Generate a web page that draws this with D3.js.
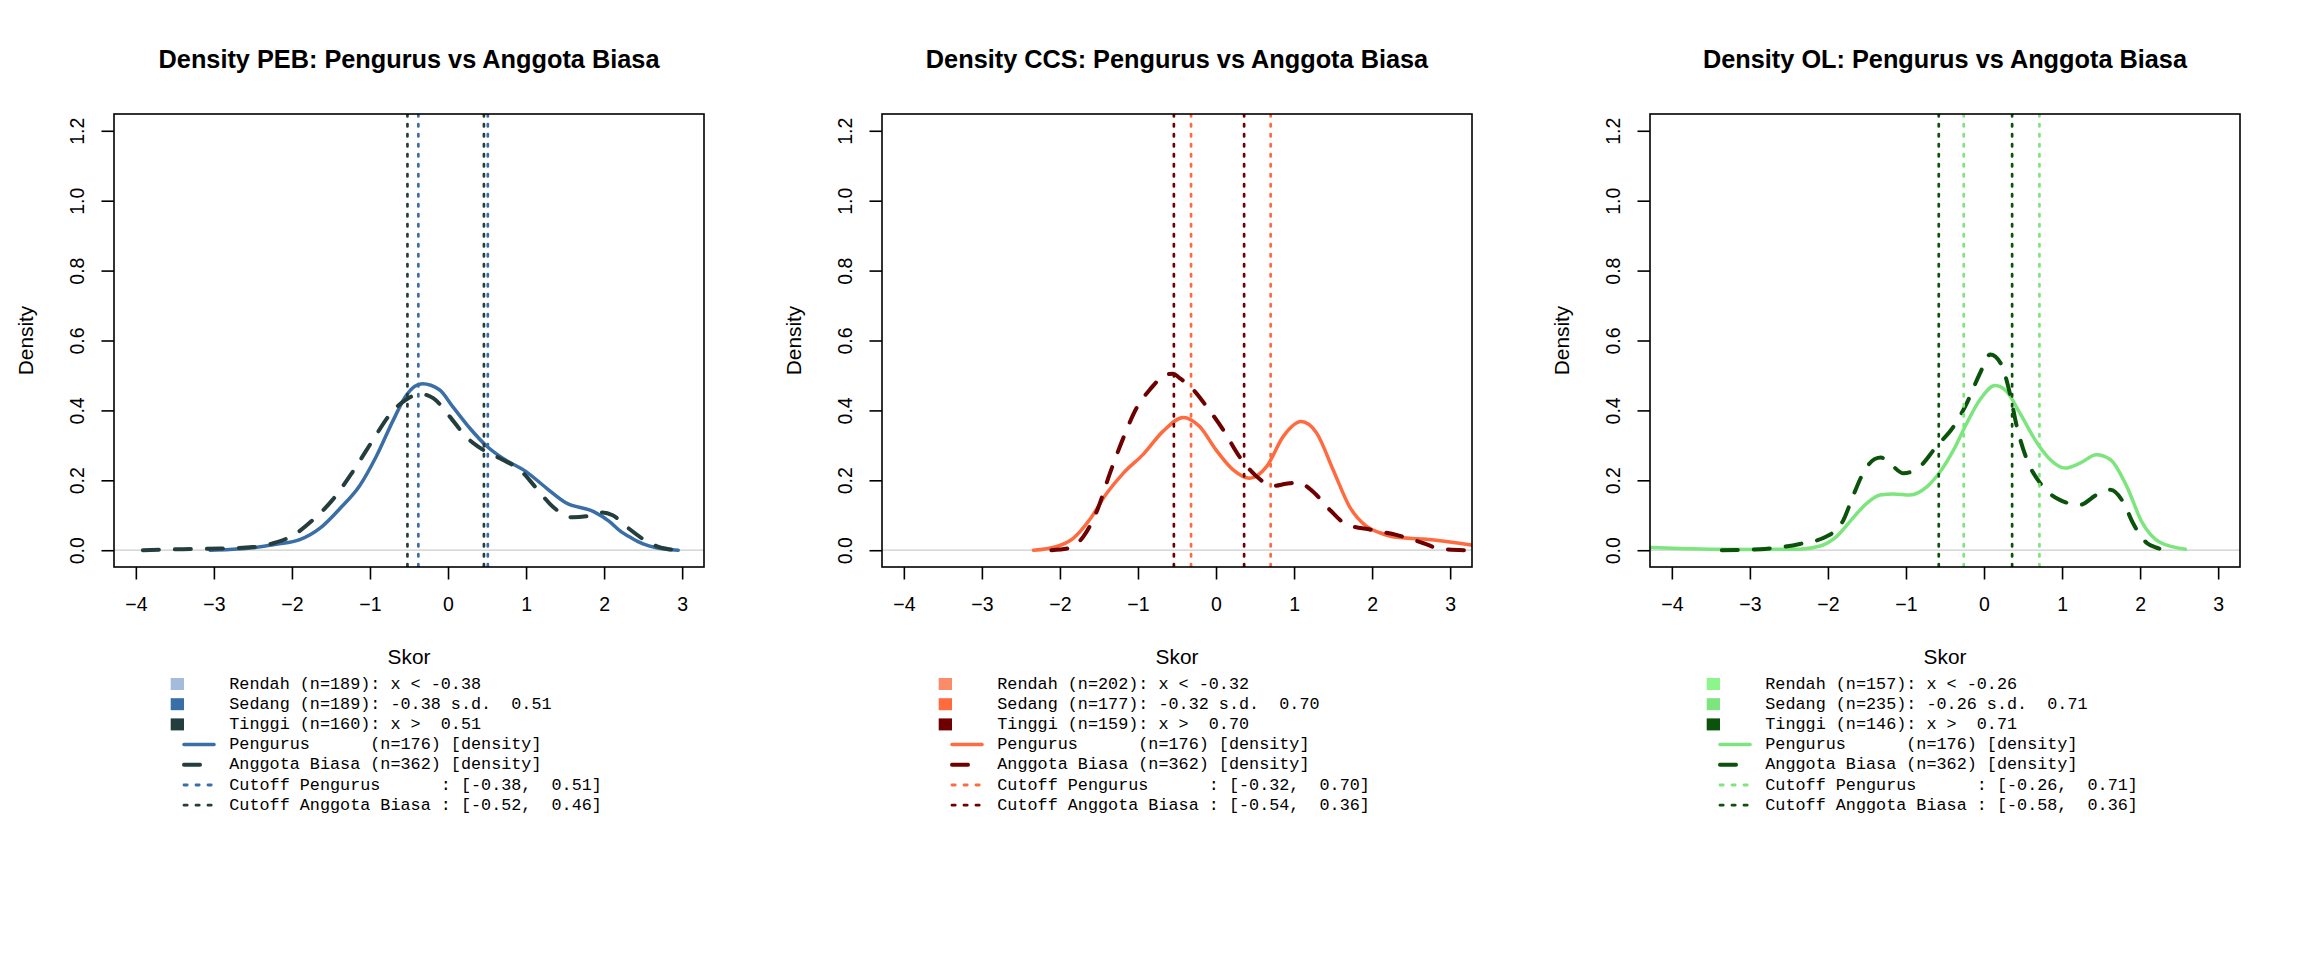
<!DOCTYPE html>
<html>
<head>
<meta charset="utf-8">
<script src="https://cdn.jsdelivr.net/npm/d3@7"></script>
<style>
  body { margin: 0; background: #fff; }
  svg text { font-family: "Liberation Sans", Arial, Helvetica, sans-serif; fill: #000; }
  .legend-text { font-family: "Courier New", "Liberation Mono", monospace; font-size: 16.8px; white-space: pre; }
</style>
</head>
<body>
<svg id="chart" width="2304" height="960"></svg>
<script>
// density curves: [skor, density]
const pebPengurus = [[-3.05, 0], [-2.8, 0.002], [-2.5, 0.007], [-2.2, 0.017], [-1.9, 0.03], [-1.64, 0.063], [-1.39, 0.118], [-1.13, 0.185], [-0.92, 0.268], [-0.7, 0.373], [-0.53, 0.445], [-0.33, 0.476], [-0.11, 0.459], [0.06, 0.411], [0.28, 0.349], [0.49, 0.299], [0.7, 0.263], [1.0, 0.225], [1.26, 0.178], [1.51, 0.136], [1.86, 0.111], [2.07, 0.082], [2.2, 0.056], [2.35, 0.035], [2.5, 0.018], [2.67, 0.007], [2.95, 0]];
const pebAnggota = [[-3.91, 0], [-3.4, 0.003], [-2.92, 0.005], [-2.5, 0.009], [-2.24, 0.02], [-1.99, 0.042], [-1.73, 0.087], [-1.48, 0.144], [-1.22, 0.225], [-0.96, 0.316], [-0.75, 0.387], [-0.53, 0.432], [-0.36, 0.447], [-0.19, 0.435], [0.02, 0.383], [0.23, 0.325], [0.45, 0.287], [0.7, 0.259], [0.92, 0.23], [1.13, 0.178], [1.34, 0.125], [1.6, 0.094], [1.77, 0.097], [1.98, 0.108], [2.11, 0.1], [2.3, 0.065], [2.5, 0.032], [2.67, 0.012], [2.8, 0.004], [2.95, 0]];

const ccsPengurus = [[-2.34, 0], [-2.05, 0.01], [-1.83, 0.034], [-1.62, 0.087], [-1.41, 0.16], [-1.19, 0.22], [-0.93, 0.275], [-0.68, 0.34], [-0.42, 0.38], [-0.21, 0.354], [0.0, 0.287], [0.22, 0.23], [0.43, 0.206], [0.65, 0.24], [0.86, 0.325], [1.09, 0.368], [1.29, 0.335], [1.5, 0.23], [1.71, 0.125], [1.93, 0.068], [2.1, 0.05], [2.31, 0.037], [2.66, 0.032], [2.95, 0.025], [3.27, 0.015], [3.5, 0.006], [3.7, 0]];
const ccsAnggota = [[-2.11, 0], [-1.88, 0.006], [-1.7, 0.039], [-1.53, 0.11], [-1.36, 0.22], [-1.19, 0.32], [-1.02, 0.406], [-0.85, 0.459], [-0.64, 0.502], [-0.55, 0.505], [-0.47, 0.493], [-0.29, 0.459], [-0.12, 0.411], [0.09, 0.345], [0.3, 0.268], [0.52, 0.211], [0.73, 0.184], [0.9, 0.19], [1.05, 0.194], [1.24, 0.168], [1.46, 0.115], [1.67, 0.074], [2.0, 0.058], [2.31, 0.044], [2.66, 0.02], [2.87, 0.004], [3.21, 0]];

const olPengurus = [[-4.4, 0.009], [-4.15, 0.007], [-3.51, 0.003], [-2.87, 0.002], [-2.36, 0.003], [-2.1, 0.012], [-1.89, 0.039], [-1.68, 0.092], [-1.5, 0.135], [-1.33, 0.158], [-1.16, 0.161], [-0.95, 0.158], [-0.73, 0.182], [-0.56, 0.225], [-0.39, 0.287], [-0.22, 0.364], [-0.05, 0.431], [0.14, 0.471], [0.29, 0.454], [0.46, 0.392], [0.68, 0.307], [0.85, 0.259], [1.04, 0.235], [1.23, 0.249], [1.44, 0.273], [1.62, 0.259], [1.83, 0.182], [2.02, 0.082], [2.26, 0.022], [2.58, 0.003]];
const olAnggota = [[-3.36, 0], [-2.87, 0.003], [-2.36, 0.018], [-2.02, 0.039], [-1.8, 0.087], [-1.68, 0.154], [-1.55, 0.22], [-1.4, 0.261], [-1.32, 0.265], [-1.21, 0.249], [-1.03, 0.22], [-0.82, 0.24], [-0.61, 0.297], [-0.39, 0.354], [-0.22, 0.421], [-0.05, 0.507], [0.08, 0.56], [0.21, 0.536], [0.33, 0.45], [0.42, 0.354], [0.55, 0.259], [0.72, 0.192], [0.97, 0.144], [1.23, 0.13], [1.44, 0.158], [1.62, 0.173], [1.79, 0.135], [1.91, 0.077], [2.09, 0.02], [2.2, 0.008], [2.32, 0]];

// cutoffs [low, high]
const pebCutPengurus = [-0.38, 0.51];
const pebCutAnggota = [-0.52, 0.46];
const ccsCutPengurus = [-0.32, 0.70];
const ccsCutAnggota = [-0.54, 0.36];
const olCutPengurus = [-0.26, 0.71];
const olCutAnggota = [-0.58, 0.36];

// n for Rendah, Sedang, Tinggi
const pebCounts = [189, 189, 160];
const ccsCounts = [202, 177, 159];
const olCounts = [157, 235, 146];
const nPengurus = 176;
const nAnggota = 362;

const titles = ['Density PEB: Pengurus vs Anggota Biasa', 'Density CCS: Pengurus vs Anggota Biasa', 'Density OL: Pengurus vs Anggota Biasa'];
const xTicks = [-4, -3, -2, -1, 0, 1, 2, 3];
const yTicks = [0, 0.2, 0.4, 0.6, 0.8, 1.0, 1.2];
const xLim = [-4, 3];
const yLim = [0, 1.2];

const palettes = [
  { rendah: '#a4bbdb', sedang: '#3a6ea6', tinggi: '#243d3d' },
  { rendah: '#fb8c69', sedang: '#ff6a3f', tinggi: '#6e0000' },
  { rendah: '#8cf58c', sedang: '#7de57d', tinggi: '#0b520b' },
];

const panels = [
  { title: titles[0], pengurus: pebPengurus, anggota: pebAnggota, cutP: pebCutPengurus, cutA: pebCutAnggota, counts: pebCounts, col: palettes[0] },
  { title: titles[1], pengurus: ccsPengurus, anggota: ccsAnggota, cutP: ccsCutPengurus, cutA: ccsCutAnggota, counts: ccsCounts, col: palettes[1] },
  { title: titles[2], pengurus: olPengurus, anggota: olAnggota, cutP: olCutPengurus, cutA: olCutAnggota, counts: olCounts, col: palettes[2] },
];

const panelWidth = 768;
const box = { left: 114, right: 704, top: 114, bottom: 567 };

// R style 4% padding around the limits
const xPad = (xLim[1] - xLim[0]) * 0.04;
const yPad = (yLim[1] - yLim[0]) * 0.04;
const x = d3.scaleLinear().domain([xLim[0] - xPad, xLim[1] + xPad]).range([box.left, box.right]);
const y = d3.scaleLinear().domain([yLim[0] - yPad, yLim[1] + yPad]).range([box.bottom, box.top]);

const line = d3.line().x(d => x(d[0])).y(d => y(d[1])).curve(d3.curveMonotoneX);
const fmt = v => (v < 0 ? '' : ' ') + v.toFixed(2);

const svg = d3.select('#chart');

panels.forEach((p, i) => {
  const g = svg.append('g').attr('transform', `translate(${i * panelWidth},0)`);
  const clipId = `clip-${i}`;

  g.append('clipPath').attr('id', clipId)
    .append('rect')
    .attr('x', box.left).attr('y', box.top)
    .attr('width', box.right - box.left).attr('height', box.bottom - box.top);

  g.append('text')
    .attr('x', (box.left + box.right) / 2)
    .attr('y', 59)
    .attr('text-anchor', 'middle')
    .attr('dominant-baseline', 'central')
    .style('font-size', '25.3px')
    .style('font-weight', 'bold')
    .text(p.title);

  const plot = g.append('g').attr('clip-path', `url(#${clipId})`);

  plot.append('line')
    .attr('x1', box.left).attr('x2', box.right)
    .attr('y1', y(0)).attr('y2', y(0))
    .attr('stroke', '#cccccc').attr('stroke-width', 1.3);

  plot.append('path')
    .datum(p.pengurus)
    .attr('d', line)
    .attr('fill', 'none')
    .attr('stroke', p.col.sedang)
    .attr('stroke-width', 3.5)
    .attr('stroke-linejoin', 'round')
    .attr('stroke-linecap', 'round');

  plot.append('path')
    .datum(p.anggota)
    .attr('d', line)
    .attr('fill', 'none')
    .attr('stroke', p.col.tinggi)
    .attr('stroke-width', 4)
    .attr('stroke-dasharray', '16 16')
    .attr('stroke-linejoin', 'round')
    .attr('stroke-linecap', 'round');

  const cuts = [
    ...p.cutA.map(v => ({ v, color: p.col.tinggi })),
    ...p.cutP.map(v => ({ v, color: p.col.sedang })),
  ];
  plot.selectAll('.cutoff')
    .data(cuts)
    .join('line')
    .attr('class', 'cutoff')
    .attr('x1', d => x(d.v)).attr('x2', d => x(d.v))
    .attr('y1', box.top).attr('y2', box.bottom)
    .attr('stroke', d => d.color)
    .attr('stroke-width', 2.7)
    .attr('stroke-dasharray', '2.5 7.5')
    .attr('stroke-linecap', 'round');

  g.append('rect')
    .attr('x', box.left).attr('y', box.top)
    .attr('width', box.right - box.left).attr('height', box.bottom - box.top)
    .attr('fill', 'none').attr('stroke', '#000').attr('stroke-width', 1.6);

  const xAxis = d3.axisBottom(x).tickValues(xTicks).tickSize(12.5).tickFormat(d3.format('d'));
  g.append('g')
    .attr('transform', `translate(0,${box.bottom})`)
    .call(xAxis)
    .call(a => a.select('.domain').remove())
    .call(a => a.selectAll('line').attr('stroke', '#000').attr('stroke-width', 1.6))
    .call(a => a.selectAll('text')
      .attr('y', 37).attr('dy', null)
      .attr('dominant-baseline', 'central')
      .attr('fill', '#000')
      .style('font-size', '19.5px')
      .style('font-family', '"Liberation Sans", Arial, sans-serif'));

  const yAxis = d3.axisLeft(y).tickValues(yTicks).tickSize(12.5).tickFormat(d3.format('.1f'));
  g.append('g')
    .attr('transform', `translate(${box.left},0)`)
    .call(yAxis)
    .call(a => a.select('.domain').remove())
    .call(a => a.selectAll('line').attr('stroke', '#000').attr('stroke-width', 1.6))
    .call(a => a.selectAll('text')
      .attr('x', 0).attr('dy', null)
      .attr('transform', 'translate(-37,0) rotate(-90)')
      .attr('text-anchor', 'middle')
      .attr('dominant-baseline', 'central')
      .attr('fill', '#000')
      .style('font-size', '19.5px')
      .style('font-family', '"Liberation Sans", Arial, sans-serif'));

  g.append('text')
    .attr('transform', `translate(25.5,${(box.top + box.bottom) / 2}) rotate(-90)`)
    .attr('text-anchor', 'middle')
    .attr('dominant-baseline', 'central')
    .style('font-size', '20.8px')
    .text('Density');

  g.append('text')
    .attr('x', (box.left + box.right) / 2)
    .attr('y', 656.7)
    .attr('text-anchor', 'middle')
    .attr('dominant-baseline', 'central')
    .style('font-size', '20.8px')
    .text('Skor');

  // legend under the plot
  const rows = [
    { fill: p.col.rendah, label: `Rendah (n=${p.counts[0]}): x < ${fmt(p.cutP[0])}` },
    { fill: p.col.sedang, label: `Sedang (n=${p.counts[1]}): ${fmt(p.cutP[0])} s.d. ${fmt(p.cutP[1])}` },
    { fill: p.col.tinggi, label: `Tinggi (n=${p.counts[2]}): x > ${fmt(p.cutP[1])}` },
    { stroke: p.col.sedang, width: 3.5, dash: null, label: `Pengurus      (n=${nPengurus}) [density]` },
    { stroke: p.col.tinggi, width: 4, dash: '16 16', label: `Anggota Biasa (n=${nAnggota}) [density]` },
    { stroke: p.col.sedang, width: 2.8, dash: '3.2 8.8', label: `Cutoff Pengurus      : [${fmt(p.cutP[0])}, ${fmt(p.cutP[1])}]` },
    { stroke: p.col.tinggi, width: 2.8, dash: '3.2 8.8', label: `Cutoff Anggota Biasa : [${fmt(p.cutA[0])}, ${fmt(p.cutA[1])}]` },
  ];

  const legend = g.append('g').attr('class', 'legend');
  const item = legend.selectAll('g')
    .data(rows)
    .join('g')
    .attr('transform', (d, k) => `translate(0,${684 + k * 20.2})`);

  item.filter(d => d.fill)
    .append('rect')
    .attr('x', 170.7).attr('y', -6)
    .attr('width', 13.3).attr('height', 12)
    .attr('fill', d => d.fill);

  item.filter(d => d.stroke)
    .append('line')
    .attr('x1', 184).attr('x2', 214)
    .attr('stroke', d => d.stroke)
    .attr('stroke-width', d => d.width)
    .attr('stroke-dasharray', d => d.dash)
    .attr('stroke-linecap', 'round');

  item.append('text')
    .attr('class', 'legend-text')
    .attr('x', 229.3)
    .attr('dominant-baseline', 'central')
    .text(d => d.label);
});
</script>
</body>
</html>
